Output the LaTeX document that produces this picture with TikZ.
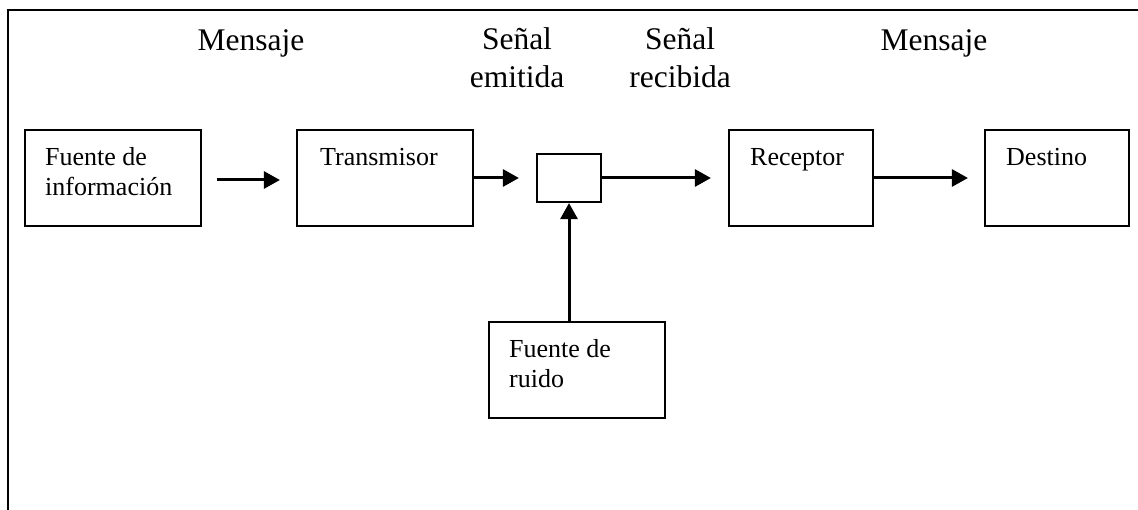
\documentclass[tikz,border=0pt]{standalone}
\usepackage{fontspec}
\setmainfont{Liberation Serif}
\usetikzlibrary{arrows.meta}
\begin{document}
\begin{tikzpicture}[x=1pt,y=-1pt,
  box/.style={draw,line width=2.2pt,inner sep=0pt},
  boxtext/.style={anchor=base west,inner sep=0pt,align=left,font=\fontsize{26}{29.5}\selectfont},
  lab/.style={anchor=base,inner sep=0pt,align=center,font=\fontsize{31.5}{38}\selectfont},
  arr/.style={line width=3pt,-{Triangle[length=16pt,width=17pt]}}]
\useasboundingbox (0,0) rectangle (1138,510);
\draw[line width=2.2pt] (8,510) -- (8,10) -- (1138,10);
% boxes
\node[box,minimum width=176pt,minimum height=96pt] (fuente) at (113,178) {};
\node[box,minimum width=176pt,minimum height=96pt] (trans) at (385,178) {};
\node[box,minimum width=64pt,minimum height=48pt] (canal) at (569,178) {};
\node[box,minimum width=144pt,minimum height=96pt] (rec) at (801,178) {};
\node[box,minimum width=144pt,minimum height=96pt] (dest) at (1057,178) {};
\node[box,minimum width=176pt,minimum height=96pt] (ruido) at (577,370) {};
% box texts (base anchor = last line)
\node[boxtext] (tfuente) at (45,195.5) {Fuente de\\información};
\node[boxtext] (ttrans) at (320,166) {Transmisor};
\node[boxtext] (trec) at (750,166) {Receptor};
\node[boxtext] (tdest) at (1006,166) {Destino};
\node[boxtext] (truido) at (509,387.5) {Fuente de\\ruido};
% labels
\node[lab] (m1) at (251,51) {Mensaje};
\node[lab] (se) at (517,88) {Señal\\emitida};
\node[lab] (sr) at (680,88) {Señal\\recibida};
\node[lab] (m2) at (934,51) {Mensaje};
% arrows
\draw[arr] ([xshift=15pt,yshift=-2pt]fuente.east) -- ([xshift=-16pt,yshift=-2pt]trans.west);
\draw[arr] (trans.east) -- ([xshift=-17pt]canal.west);
\draw[arr] (canal.east) -- ([xshift=-17pt]rec.west);
\draw[arr] (rec.east) -- ([xshift=-16pt]dest.west);
\draw[arr] (ruido.north -| canal.south) -- (canal.south);
\end{tikzpicture}
\end{document}
